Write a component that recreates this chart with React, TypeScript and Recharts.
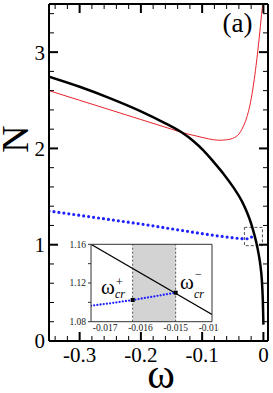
import React from 'react';
import { LineChart, Line, XAxis, YAxis, ReferenceArea, ReferenceLine, CartesianGrid } from 'recharts';

// main panel: N versus omega
const blackOmega = [-0.35, -0.3, -0.25, -0.2, -0.16, -0.133, -0.115, -0.098, -0.082, -0.065, -0.049, -0.035, -0.027, -0.02, -0.015, -0.0115, -0.008, -0.005, -0.0025, -0.001, -0.0003, 0];
const blackN = [2.745, 2.64, 2.52, 2.385, 2.26, 2.165, 2.08, 1.98, 1.865, 1.735, 1.595, 1.45, 1.34, 1.22, 1.11, 1.02, 0.91, 0.79, 0.63, 0.43, 0.26, 0.17];

const redOmega = [-0.35, -0.3, -0.25, -0.2, -0.15, -0.133, -0.11, -0.09, -0.073, -0.06, -0.05, -0.04, -0.035, -0.03, -0.025, -0.021, -0.016, -0.012, -0.009, -0.006, -0.004, -0.002, -0.001];
const redN = [2.6, 2.5, 2.4, 2.3, 2.2, 2.165, 2.13, 2.1, 2.085, 2.09, 2.105, 2.15, 2.2, 2.27, 2.37, 2.48, 2.67, 2.86, 3.02, 3.2, 3.33, 3.45, 3.52];

const blueOmega = [-0.35, -0.3, -0.25, -0.2, -0.15, -0.1, -0.07, -0.05, -0.035, -0.025, -0.02, -0.0175, -0.015];
const blueN = [1.35, 1.305, 1.26, 1.215, 1.165, 1.115, 1.088, 1.072, 1.063, 1.062, 1.075, 1.095, 1.11];

const xMajor = [-0.3, -0.2, -0.1, 0];
const xMinor = [-0.34, -0.32, -0.28, -0.26, -0.24, -0.22, -0.18, -0.16, -0.14, -0.12, -0.08, -0.06, -0.04, -0.02];
const yMajor = [0, 1, 2, 3];
const yMinor = [0.2, 0.4, 0.6, 0.8, 1.2, 1.4, 1.6, 1.8, 2.2, 2.4, 2.6, 2.8, 3.2, 3.4];

// zoom box drawn on the main panel
const boxOmega = [-0.031, -0.0016];
const boxN = [0.99, 1.18];

// inset
const insetBlackOmega = [-0.0174, -0.01397];
const insetBlackN = [1.16, 1.0875];
const insetBlueOmega = [-0.0174, -0.0168, -0.01622, -0.0156, -0.015];
const insetBlueN = [1.0965, 1.0993, 1.1024, 1.1062, 1.11];
const crOmega = [-0.01622, -0.015];
const crN = [1.1024, 1.11];
const insetXTicks = [-0.017, -0.016, -0.015, -0.014];
const insetYTicks = [1.08, 1.12, 1.16];
const insetYMinor = [1.1, 1.14];

const zip = (w: number[], n: number[]) => w.map((v, i) => ({ w: v, n: n[i] }));
const blackData = zip(blackOmega, blackN);
const redData = zip(redOmega, redN);
const blueData = zip(blueOmega, blueN);
const insetBlack = zip(insetBlackOmega, insetBlackN);
const insetBlue = zip(insetBlueOmega, insetBlueN);
const crData = zip(crOmega, crN);

const serif = "'Liberation Serif', 'Times New Roman', 'DejaVu Serif', serif";
const mainFont = { fontSize: 21, fill: '#000', fontFamily: serif };
const insetFont = { fontSize: 9.5, fill: '#222', fontFamily: serif };
const blank = () => '';
const fmtMain = (v: number) => (v === 0 ? '0' : String(v));
const xDomain: [number, number] = [-0.35, 0.0075];
const yDomain: [number, number] = [0, 3.5];
const insetXDomain: [number, number] = [-0.0174, -0.01397];
const insetYDomain: [number, number] = [1.08, 1.16];
// axes need a non-zero thickness to be drawn at all
const thin = 0.01;

const major = { stroke: '#000', strokeWidth: 2 };
const minor = { stroke: '#000', strokeWidth: 1 };
const frame = { stroke: '#000', strokeWidth: 2 };
const insetLine = { stroke: '#333', strokeWidth: 1 };

const SquareDot = (props: any) => {
  const { cx, cy } = props;
  if (cx == null || cy == null) return <g />;
  return <rect x={cx - 2} y={cy - 2} width={4} height={4} fill="#000" />;
};

function MainChart() {
  return (
    <LineChart width={273} height={393} margin={{ top: 4, right: 5, bottom: 52, left: 49 }}>
      <XAxis xAxisId="x" dataKey="w" type="number" domain={xDomain} allowDataOverflow ticks={xMajor} interval={0}
        tickFormatter={fmtMain} tickLine={false} tickSize={0} tickMargin={6} height={thin} tick={mainFont} axisLine={frame} />
      <XAxis xAxisId="xb1" dataKey="w" type="number" domain={xDomain} allowDataOverflow ticks={xMajor} interval={0}
        mirror tickFormatter={blank} tickSize={9} tickLine={major} axisLine={false} height={thin} />
      <XAxis xAxisId="xb2" dataKey="w" type="number" domain={xDomain} allowDataOverflow ticks={xMinor} interval={0}
        mirror tickFormatter={blank} tickSize={5} tickLine={minor} axisLine={false} height={thin} />
      <XAxis xAxisId="xt1" orientation="top" dataKey="w" type="number" domain={xDomain} allowDataOverflow ticks={xMajor} interval={0}
        mirror tickFormatter={blank} tickSize={9} tickLine={major} axisLine={frame} height={thin} />
      <XAxis xAxisId="xt2" orientation="top" dataKey="w" type="number" domain={xDomain} allowDataOverflow ticks={xMinor} interval={0}
        mirror tickFormatter={blank} tickSize={5} tickLine={minor} axisLine={false} height={thin} />

      <YAxis yAxisId="y" type="number" domain={yDomain} allowDataOverflow ticks={yMajor} interval={0}
        tickFormatter={fmtMain} tickLine={false} tickSize={0} tickMargin={4} width={thin} tick={mainFont} axisLine={frame} />
      <YAxis yAxisId="yl1" type="number" domain={yDomain} allowDataOverflow ticks={yMajor} interval={0}
        mirror tickFormatter={blank} tickSize={9} tickLine={major} axisLine={false} width={thin} />
      <YAxis yAxisId="yl2" type="number" domain={yDomain} allowDataOverflow ticks={yMinor} interval={0}
        mirror tickFormatter={blank} tickSize={5} tickLine={minor} axisLine={false} width={thin} />
      <YAxis yAxisId="yr1" orientation="right" type="number" domain={yDomain} allowDataOverflow ticks={yMajor} interval={0}
        mirror tickFormatter={blank} tickSize={9} tickLine={major} axisLine={frame} width={thin} />
      <YAxis yAxisId="yr2" orientation="right" type="number" domain={yDomain} allowDataOverflow ticks={yMinor} interval={0}
        mirror tickFormatter={blank} tickSize={5} tickLine={minor} axisLine={false} width={thin} />

      <ReferenceArea xAxisId="x" yAxisId="y" x1={boxOmega[0]} x2={boxOmega[1]} y1={boxN[0]} y2={boxN[1]}
        fill="none" stroke="#555" strokeDasharray="3 2" strokeWidth={1} />

      <Line xAxisId="x" yAxisId="y" data={redData} dataKey="n" type="monotone" stroke="#e8232b" strokeWidth={1}
        dot={false} isAnimationActive={false} />
      <Line xAxisId="x" yAxisId="y" data={blueData} dataKey="n" type="monotone" stroke="#1f22ff" strokeWidth={3.2}
        strokeDasharray="0 5" strokeLinecap="round" dot={false} isAnimationActive={false} />
      <Line xAxisId="x" yAxisId="y" data={blackData} dataKey="n" type="monotone" stroke="#000" strokeWidth={2.5}
        dot={false} isAnimationActive={false} />
    </LineChart>
  );
}

function InsetChart() {
  return (
    <div style={{ position: 'absolute', left: 60, top: 240, width: 159, height: 100, overflow: 'hidden' }}>
      <LineChart width={170} height={100} margin={{ top: 4.3, right: 18, bottom: 18.3, left: 31 }}>
        <CartesianGrid xAxisId="x" yAxisId="y" horizontal={false} vertical={false} fill="#fff" fillOpacity={1} />
        <XAxis xAxisId="x" dataKey="w" type="number" domain={insetXDomain} allowDataOverflow ticks={insetXTicks} interval={0}
          tickFormatter={(v: number) => v.toFixed(3)} tickLine={false} tickSize={0} tickMargin={3} height={thin}
          tick={insetFont} axisLine={insetLine} />
        <XAxis xAxisId="xt" orientation="top" dataKey="w" type="number" domain={insetXDomain} allowDataOverflow
          ticks={insetXTicks} interval={0} mirror tickFormatter={blank} tickLine={false} height={thin} axisLine={insetLine} />
        <YAxis yAxisId="y" type="number" domain={insetYDomain} allowDataOverflow ticks={insetYTicks} interval={0}
          tickFormatter={(v: number) => v.toFixed(2)} tickSize={3} tickMargin={2} width={thin} tick={insetFont}
          tickLine={insetLine} axisLine={insetLine} />
        <YAxis yAxisId="ym" type="number" domain={insetYDomain} allowDataOverflow ticks={insetYMinor} interval={0}
          tickFormatter={blank} tickSize={3} width={thin} tickLine={insetLine} axisLine={false} />
        <YAxis yAxisId="yr" orientation="right" type="number" domain={insetYDomain} allowDataOverflow ticks={insetYTicks}
          interval={0} mirror tickFormatter={blank} tickLine={false} width={thin} axisLine={insetLine} />

        <ReferenceArea xAxisId="x" yAxisId="y" x1={crOmega[0]} x2={crOmega[1]} fill="#d3d3d3" fillOpacity={1} stroke="none" />
        <ReferenceLine xAxisId="x" yAxisId="y" x={crOmega[0]} stroke="#555" strokeDasharray="2 2" strokeWidth={1} />
        <ReferenceLine xAxisId="x" yAxisId="y" x={crOmega[1]} stroke="#555" strokeDasharray="2 2" strokeWidth={1} />

        <Line xAxisId="x" yAxisId="y" data={insetBlack} dataKey="n" type="linear" stroke="#000" strokeWidth={1.2}
          dot={false} isAnimationActive={false} />
        <Line xAxisId="x" yAxisId="y" data={insetBlue} dataKey="n" type="linear" stroke="#1f22ff" strokeWidth={2.3}
          strokeDasharray="0 3.2" strokeLinecap="round" dot={false} isAnimationActive={false} />
        <Line xAxisId="x" yAxisId="y" data={crData} dataKey="n" stroke="none" dot={<SquareDot />}
          isAnimationActive={false} />
      </LineChart>
    </div>
  );
}

function Labels() {
  return (
    <svg width={273} height={393} style={{ position: 'absolute', left: 0, top: 0, pointerEvents: 'none' }}>
      <text x={237.5} y={32} textAnchor="middle" fontFamily={serif} fontSize={27} fill="#000">(a)</text>
      <text x={161} y={388} textAnchor="middle" fontFamily={serif} fontSize={42} fill="#000">ω</text>
      <text transform="translate(28,139) rotate(-90)" textAnchor="middle" fontFamily={serif} fontSize={38} fill="#000">N</text>

      <text x={101} y={294} fontFamily={serif} fontSize={21} fill="#000">ω</text>
      <text x={115} y={298} fontFamily={serif} fontSize={12} fontStyle="italic" fill="#000">cr</text>
      <text x={116} y={286} fontFamily={serif} fontSize={12} fill="#000">+</text>

      <text x={180} y={289} fontFamily={serif} fontSize={21} fill="#000">ω</text>
      <text x={194} y={298} fontFamily={serif} fontSize={12} fontStyle="italic" fill="#000">cr</text>
      <text x={195} y={278} fontFamily={serif} fontSize={12} fill="#000">−</text>
    </svg>
  );
}

export default function App() {
  return (
    <div style={{ position: 'absolute', left: 0, top: 0, width: 273, height: 393, background: '#fff' }}>
      <MainChart />
      <InsetChart />
      <Labels />
    </div>
  );
}
